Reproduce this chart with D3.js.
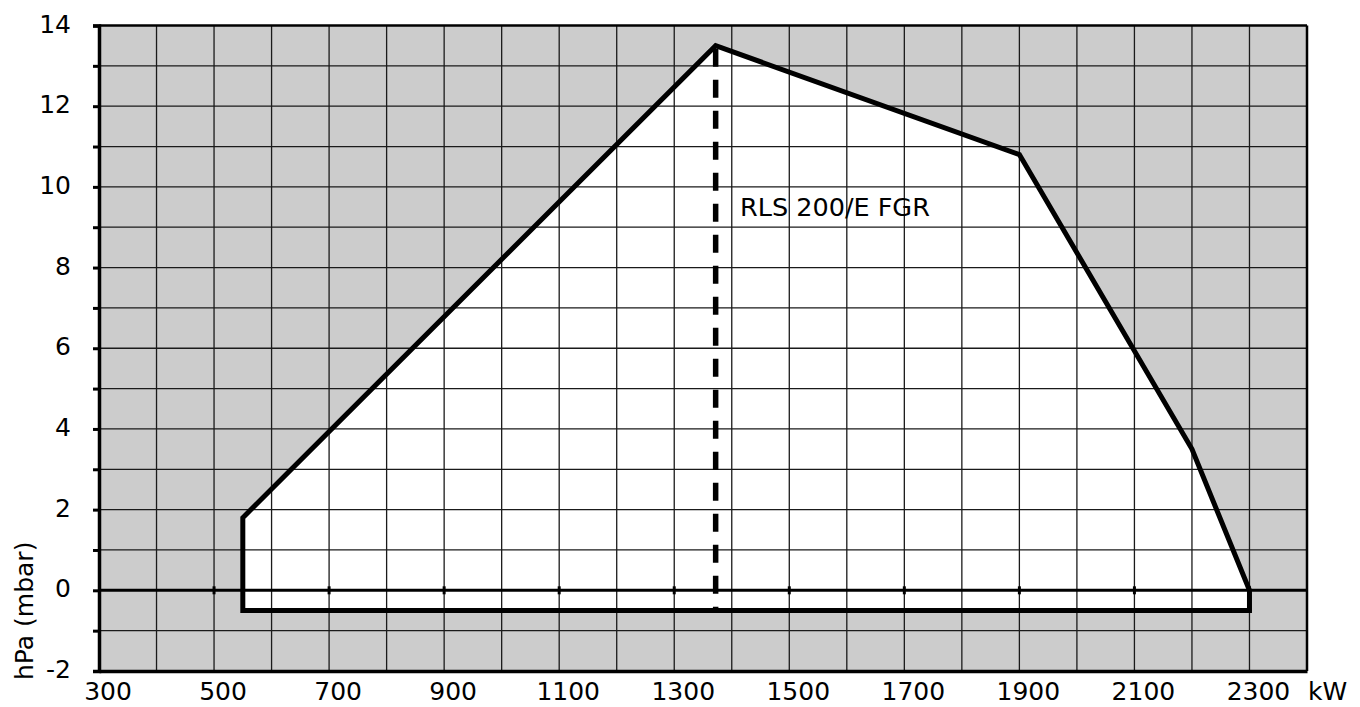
<!DOCTYPE html>
<html><head><meta charset="utf-8">
<script src="https://cdn.jsdelivr.net/npm/d3@7"></script>
<style>body{margin:0;background:#fff}svg text{font-family:"DejaVu Sans",sans-serif;fill:#000}</style>
</head><body>
<svg id="c" width="1360" height="707"></svg>
<script>
// Data
const xTicks = [300,500,700,900,1100,1300,1500,1700,1900,2100,2300];
const yTicks = [-2,0,2,4,6,8,10,12,14];
const envelopeKW = [550,1372,1900,2200,2300,2300,550];
const envelopeHPa = [1.8,13.5,10.8,3.5,0,-0.5,-0.5];
const modelName = "RLS 200/E FGR";
const modelKW = 1372;
const modelRange = [13.5,-0.5];
const xUnit = "kW";
const yTitle = "hPa (mbar)";

const svg = d3.select("#c");
const x = d3.scaleLinear().domain([300,2400]).range([99,1307]);
const y = d3.scaleLinear().domain([-2,14]).range([671,25.5]);

// background
svg.append("rect").attr("x",x(300)).attr("y",y(14)).attr("width",x(2400)-x(300)).attr("height",y(-2)-y(14)).attr("fill","#cccccc");

const pts = envelopeKW.map((k,i)=>[x(k),y(envelopeHPa[i])]);
const line = d3.line();
svg.append("path").attr("d",line(pts)+"Z").attr("fill","#fff").attr("stroke","none");

// grid
const gx = d3.range(400,2400,100);
svg.append("g").selectAll("line").data(gx).join("line")
  .attr("x1",d=>x(d)).attr("x2",d=>x(d)).attr("y1",y(14)).attr("y2",y(-2))
  .attr("stroke","#1a1a1a").attr("stroke-width",1.3);
const gy = d3.range(-1,14,1);
svg.append("g").selectAll("line").data(gy).join("line")
  .attr("x1",x(300)).attr("x2",x(2400)).attr("y1",d=>y(d)).attr("y2",d=>y(d))
  .attr("stroke","#1a1a1a").attr("stroke-width",1.3);

// zero line
svg.append("line").attr("x1",x(300)).attr("x2",x(2400)).attr("y1",y(0)).attr("y2",y(0)).attr("stroke","#000").attr("stroke-width",3);
// ticks on zero line
svg.append("g").selectAll("line").data(xTicks.slice(1)).join("line")
  .attr("x1",d=>x(d)).attr("x2",d=>x(d)).attr("y1",y(0)-4).attr("y2",y(0)+4)
  .attr("stroke","#000").attr("stroke-width",3);

// envelope outline
svg.append("path").attr("d",line(pts)+"Z").attr("fill","none").attr("stroke","#000").attr("stroke-width",5).attr("stroke-linejoin","miter");

// dashed model line
svg.append("line").attr("x1",x(modelKW)).attr("x2",x(modelKW)).attr("y1",y(modelRange[0])).attr("y2",y(modelRange[1]))
  .attr("stroke","#000").attr("stroke-width",5.5).attr("stroke-dasharray","18,13").attr("stroke-dashoffset",-3);

svg.append("text").attr("x",740).attr("y",216).attr("font-size",25.5).text(modelName);

// borders
svg.append("line").attr("x1",x(300)).attr("x2",x(2400)).attr("y1",y(14)).attr("y2",y(14)).attr("stroke","#000").attr("stroke-width",2.5);
svg.append("line").attr("x1",x(2400)).attr("x2",x(2400)).attr("y1",y(14)).attr("y2",y(-2)).attr("stroke","#000").attr("stroke-width",2.5);

// axes
const yAxis = d3.axisLeft(y).tickValues(d3.range(-2,15,1)).tickSize(6).tickFormat("");
const ya = svg.append("g").attr("transform",`translate(${x(300)},0)`).call(yAxis);
ya.select(".domain").attr("stroke-width",3.5);
ya.selectAll(".tick line").attr("stroke-width",3);
const xAxis = d3.axisBottom(x).tickValues([]).tickSizeOuter(0);
const xa = svg.append("g").attr("transform",`translate(0,${y(-2)})`).call(xAxis);
xa.select(".domain").attr("stroke-width",3.5);

// labels
svg.append("g").selectAll("text").data(yTicks).join("text")
  .attr("x",71).attr("y",d=>y(d)-2).attr("dy","0.36em").attr("text-anchor","end").attr("font-size",25)
  .text(d=>d<0?"-"+Math.abs(d):d);
svg.append("g").selectAll("text").data(xTicks).join("text")
  .attr("x",d=>x(d)+9).attr("y",700).attr("text-anchor","middle").attr("font-size",25).text(d=>d);
svg.append("text").attr("x",1308).attr("y",700).attr("font-size",25).text(xUnit);
svg.append("text").attr("transform","translate(33,680) rotate(-90)").attr("font-size",25).text(yTitle);
</script>
</body></html>
